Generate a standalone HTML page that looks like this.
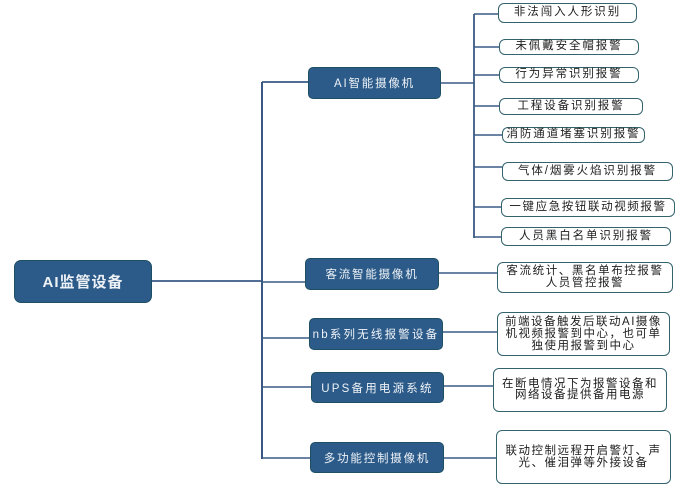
<!DOCTYPE html>
<html><head><meta charset="utf-8">
<style>
html,body{margin:0;padding:0;background:#fff;}
body{width:680px;height:493px;position:relative;overflow:hidden;font-family:"Liberation Sans","Noto Sans CJK SC",sans-serif;}
.b{position:absolute;box-sizing:border-box;display:flex;align-items:center;justify-content:center;text-align:center;}
.dark{background:#2c5b8a;border:1.5px solid #1f4f63;border-radius:5px;color:#eef2f6;font-size:11.5px;letter-spacing:1.8px;}
.root{font-size:15px;font-weight:bold;letter-spacing:1px;border-radius:7px;}
.leaf{background:#fff;border:1.8px solid #33636d;border-radius:6px;color:#1e1e1e;font-size:11.5px;letter-spacing:1.9px;line-height:11.5px;}
svg{position:absolute;left:0;top:0;}
</style></head><body>
<svg width="680" height="493">
<g stroke="#3a5a85" fill="none">
<line x1="262" y1="82" x2="262" y2="459" stroke-width="2"/>
<line x1="152" y1="281" x2="262" y2="281" stroke-width="1.8"/>
<line x1="262" y1="82" x2="308" y2="82" stroke-width="1.8"/>
<line x1="262" y1="282" x2="305" y2="282" stroke-width="1.6"/>
<line x1="262" y1="338" x2="309" y2="338" stroke-width="1.6"/>
<line x1="262" y1="387" x2="311" y2="387" stroke-width="1.6"/>
<line x1="262" y1="458" x2="310" y2="458" stroke-width="1.6"/>
<line x1="441" y1="83" x2="474" y2="83" stroke-width="1.6"/>
<line x1="474" y1="14" x2="474" y2="238" stroke-width="1.8"/>
<line x1="474" y1="14" x2="498" y2="14" stroke-width="1.6"/>
<line x1="474" y1="47" x2="499" y2="47" stroke-width="1.6"/>
<line x1="474" y1="75" x2="499" y2="75" stroke-width="1.6"/>
<line x1="474" y1="106" x2="499" y2="106" stroke-width="1.6"/>
<line x1="474" y1="135" x2="502" y2="135" stroke-width="1.6"/>
<line x1="474" y1="167" x2="502" y2="167" stroke-width="1.6"/>
<line x1="474" y1="207" x2="501" y2="207" stroke-width="1.6"/>
<line x1="474" y1="237" x2="501" y2="237" stroke-width="1.6"/>
<line x1="439" y1="273" x2="497" y2="273" stroke-width="1.6"/>
<line x1="443" y1="332" x2="497" y2="332" stroke-width="1.6"/>
<line x1="444" y1="386" x2="493" y2="386" stroke-width="1.6"/>
<line x1="444" y1="458" x2="496" y2="458" stroke-width="1.6"/>
</g>
</svg>

<div class="b dark root" style="left:14px;top:260px;width:138px;height:43px;">AI监管设备</div>

<div class="b dark" style="left:308px;top:67px;width:133px;height:32px;">AI智能摄像机</div>
<div class="b dark" style="left:305px;top:258px;width:134px;height:32px;">客流智能摄像机</div>
<div class="b dark" style="left:309px;top:318px;width:134px;height:32px;letter-spacing:2.2px;">nb系列无线报警设备</div>
<div class="b dark" style="left:311px;top:372px;width:133px;height:31px;letter-spacing:2.2px;">UPS备用电源系统</div>
<div class="b dark" style="left:310px;top:442px;width:134px;height:31px;">多功能控制摄像机</div>

<div class="b leaf" style="left:498px;top:3px;width:139px;height:20px;">非法闯入人形识别</div>
<div class="b leaf" style="left:499px;top:39px;width:140px;height:16px;">未佩戴安全帽报警</div>
<div class="b leaf" style="left:499px;top:67px;width:140px;height:16px;">行为异常识别报警</div>
<div class="b leaf" style="left:499px;top:98px;width:144px;height:17px;">工程设备识别报警</div>
<div class="b leaf" style="left:502px;top:127px;width:143px;height:16px;">消防通道堵塞识别报警</div>
<div class="b leaf" style="left:502px;top:162px;width:171px;height:19px;">气体/烟雾火焰识别报警</div>
<div class="b leaf" style="left:501px;top:198px;width:174px;height:19px;letter-spacing:1.6px;">一键应急按钮联动视频报警</div>
<div class="b leaf" style="left:501px;top:227px;width:170px;height:19px;">人员黑白名单识别报警</div>

<div class="b leaf" style="left:497px;top:262px;width:176px;height:31px;letter-spacing:1.6px;">客流统计、黑名单布控报警<br>人员管控报警</div>
<div class="b leaf" style="left:497px;top:312px;width:173px;height:44px;line-height:12px;letter-spacing:1.5px;">前端设备触发后联动AI摄像<br>机视频报警到中心，也可单<br>独使用报警到中心</div>
<div class="b leaf" style="left:493px;top:368px;width:174px;height:44px;letter-spacing:1.5px;line-height:11.5px;">在断电情况下为报警设备和<br>网络设备提供备用电源</div>
<div class="b leaf" style="left:496px;top:430px;width:175px;height:54px;letter-spacing:1.5px;line-height:12.5px;">联动控制远程开启警灯、声<br>光、催泪弹等外接设备</div>
</body></html>
